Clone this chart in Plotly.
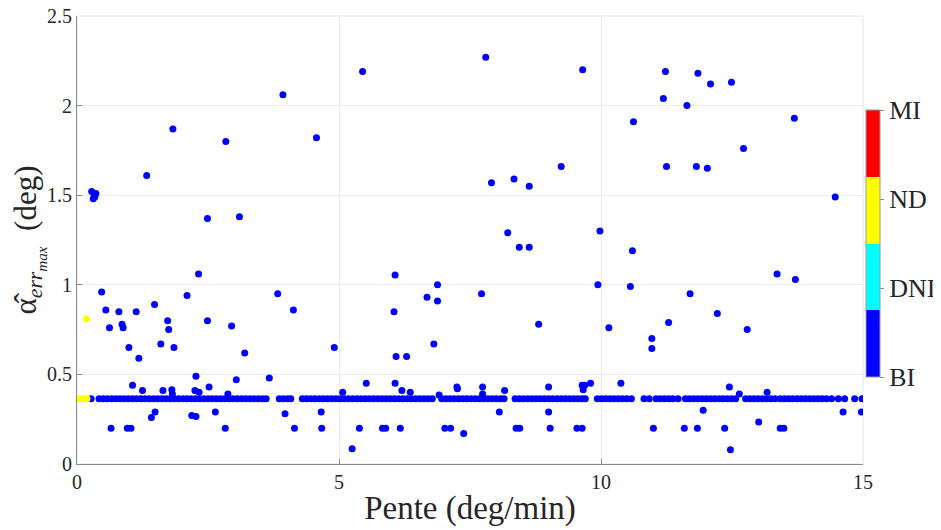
import plotly.graph_objects as go

# Classes (colorbar)
CLASS_LABELS = ["BI", "DNI", "ND", "MI"]
CLASS_VALUES = [1, 2, 3, 4]
CLASS_COLORS = ["#0000ff", "#00ffff", "#ffff00", "#ff0000"]

# Scattered points, class BI
pente_bi = [
    0.28, 0.33, 0.36, 0.31, 0.34,
    3.93, 1.83, 2.84, 4.57, 1.33, 2.49, 3.10,
    5.45, 7.80, 9.65, 10.62, 7.91, 8.34, 8.63, 9.24, 8.22, 8.44, 8.63, 9.98,
    11.23, 11.85, 12.09, 12.49, 11.19, 11.64, 13.69, 12.72, 11.25, 11.82, 12.03, 14.47,
    0.47, 0.55, 0.62, 0.80, 0.86, 0.88, 1.13, 0.99, 1.18, 1.06, 1.25, 1.48, 1.60,
    1.73, 1.75, 1.85, 1.64, 1.81, 1.82, 2.10, 2.32, 2.27, 2.25, 2.33, 2.49, 2.52,
    2.95, 3.20, 3.04, 2.88, 3.67, 3.83, 4.13, 4.91,
    0.65, 0.96, 1.03, 1.42, 1.49, 2.19, 2.27, 2.64, 2.83, 3.97, 4.15, 4.66, 4.67,
    6.07, 6.05, 6.09, 6.29, 6.68, 6.88, 6.88, 6.81, 7.72, 8.81, 9.94, 10.15, 10.56, 10.60,
    5.52, 5.07, 6.07, 6.20, 6.36, 6.91, 7.25, 7.26, 7.74, 7.74, 8.16, 9.00, 9.64, 9.66,
    9.69, 9.80, 10.38,
    5.25, 5.39, 5.83, 5.89, 6.17, 7.02, 7.13, 7.38, 8.06, 8.38, 8.45, 9.00, 9.03, 9.54, 9.64,
    10.97, 10.97, 11.29, 11.70, 12.22, 12.79, 13.36, 13.71, 12.45, 12.64, 13.17,
    11.00, 11.59, 11.84, 11.95, 12.36, 12.47, 13.01, 13.42, 13.49, 14.62, 14.97,
]
alpha_bi = [
    1.52, 1.50, 1.51, 1.48, 1.49,
    2.06, 1.87, 1.80, 1.82, 1.61, 1.37, 1.38,
    2.19, 2.27, 2.20, 1.91, 1.57, 1.59, 1.55, 1.66, 1.29, 1.21, 1.21, 1.30,
    2.19, 2.18, 2.12, 2.13, 2.04, 2.00, 1.93, 1.76, 1.66, 1.66, 1.65, 1.49,
    0.96, 0.86, 0.76, 0.85, 0.78, 0.76, 0.85, 0.65, 0.59, 0.44, 0.41, 0.89, 0.67,
    0.80, 0.75, 0.65, 0.41, 0.415, 0.39, 0.94, 1.06, 0.49, 0.41, 0.40, 0.80, 0.43,
    0.77, 0.62, 0.47, 0.39, 0.48, 0.95, 0.86, 0.65,
    0.20, 0.20, 0.20, 0.26, 0.29, 0.27, 0.265, 0.29, 0.20, 0.28, 0.20, 0.29, 0.20,
    1.055, 0.85, 0.60, 0.60, 0.93, 1.00, 0.91, 0.67, 0.95, 0.78, 1.00, 0.76, 0.99, 1.19,
    0.45, 0.40, 0.45, 0.41, 0.40, 0.385, 0.43, 0.42, 0.43, 0.39, 0.41, 0.43, 0.44, 0.415,
    0.44, 0.45, 0.45,
    0.085, 0.20, 0.20, 0.20, 0.20, 0.20, 0.20, 0.17, 0.29, 0.20, 0.20, 0.29, 0.20, 0.20, 0.20,
    0.70, 0.645, 0.79, 0.95, 0.84, 0.75, 1.06, 1.03, 0.43, 0.39, 0.40,
    0.20, 0.20, 0.20, 0.30, 0.20, 0.08, 0.235, 0.20, 0.20, 0.29, 0.29,
]

# Dense row of BI points at the floor value
ROW_ALPHA = 0.364
pente_row = [
    0.27,
    0.42, 0.50, 0.58, 0.66, 0.74, 0.82, 0.90, 0.98, 1.06, 1.14, 1.22, 1.30, 1.38, 1.46,
    1.54, 1.62, 1.70, 1.78, 1.86, 1.94, 2.02, 2.10, 2.18, 2.26, 2.34, 2.42, 2.50, 2.58,
    2.66, 2.74, 2.82, 2.90, 2.98, 3.06, 3.14, 3.22, 3.30, 3.38, 3.46, 3.54, 3.61,
    3.86, 3.94, 4.02, 4.08,
    4.30, 4.38, 4.46, 4.54, 4.62, 4.70, 4.78, 4.86, 4.94, 5.02, 5.10, 5.18, 5.26, 5.34,
    5.42, 5.50, 5.58, 5.66, 5.74, 5.82, 5.90, 5.98, 6.06, 6.14, 6.22, 6.30, 6.38, 6.46,
    6.54, 6.62, 6.70, 6.78,
    6.96, 7.04, 7.12, 7.20, 7.28, 7.36, 7.44, 7.52, 7.60, 7.68, 7.76, 7.84, 7.92, 8.00,
    8.08, 8.15,
    8.36, 8.44, 8.52, 8.60, 8.68, 8.76, 8.84, 8.92, 9.00, 9.08, 9.16, 9.24, 9.32, 9.40,
    9.48, 9.56, 9.64, 9.70,
    9.93, 10.01, 10.09, 10.17, 10.25, 10.33, 10.41, 10.49, 10.58,
    10.82, 10.92,
    11.05, 11.13, 11.21, 11.29, 11.37, 11.47,
    11.61, 11.69, 11.77, 11.85, 11.93, 12.01, 12.09, 12.17, 12.25, 12.33, 12.41, 12.49, 12.57,
    12.76, 12.84, 12.92, 13.00, 13.08, 13.16, 13.24, 13.32, 13.42, 13.50, 13.58, 13.66,
    13.74, 13.82, 13.90, 13.98, 14.06, 14.14, 14.22, 14.30, 14.40,
    14.53, 14.65,
    14.84, 14.98,
]

# Class ND points (yellow)
pente_nd = [0.0, 0.07, 0.13, 0.19, 0.18]
alpha_nd = [0.364, 0.364, 0.364, 0.364, 0.81]

pente = pente_bi + pente_row + pente_nd
alpha = alpha_bi + [ROW_ALPHA] * len(pente_row) + alpha_nd
classe = [1] * (len(pente_bi) + len(pente_row)) + [3] * len(pente_nd)

# discrete colorscale, 4 equal bins over [1, 4]
colorscale = []
for i, c in enumerate(CLASS_COLORS):
    colorscale.append([i / 4, c])
    colorscale.append([(i + 1) / 4, c])

SERIF = "Liberation Serif, DejaVu Serif, serif"
TXT = "#262626"

fig = go.Figure()
fig.add_trace(go.Scatter(
    x=pente, y=alpha, mode="markers",
    marker=dict(
        size=7, color=classe, colorscale=colorscale, cmin=1, cmax=4,
        line=dict(width=0),
        colorbar=dict(
            tickvals=CLASS_VALUES, ticktext=CLASS_LABELS,
            tickfont=dict(family=SERIF, size=26, color=TXT),
            ticks="outside", ticklen=4, tickcolor="#888",
            thickness=14, thicknessmode="pixels",
            len=0.596, lenmode="fraction", y=0.492, yanchor="middle", ypad=0,
            x=1.004, xanchor="left", xpad=0,
            outlinewidth=1, outlinecolor="#999",
        ),
    ),
    showlegend=False, hoverinfo="x+y",
))

# page body has an 8px margin, so the figure is a bit smaller than the window
fig.update_layout(
    width=933, height=522,
    margin=dict(l=69, r=78, t=8, b=66, autoexpand=False),
    plot_bgcolor="white", paper_bgcolor="white",
    font=dict(family=SERIF, color=TXT),
)
fig.update_xaxes(
    range=[0, 15], tickvals=[0, 5, 10, 15], automargin=False,
    ticklabeloverflow="allow",
    showgrid=True, gridcolor="#ebebeb", gridwidth=1, zeroline=False,
    showline=True, linecolor="#8a8a8a", linewidth=1,
    ticks="inside", ticklen=5, tickcolor="#8a8a8a",
    tickfont=dict(family=SERIF, size=20, color=TXT),
    title=dict(text="Pente (deg/min)", font=dict(family=SERIF, size=33, color=TXT), standoff=3),
)
fig.update_yaxes(
    range=[0, 2.5], tickvals=[0, 0.5, 1, 1.5, 2, 2.5], automargin=False,
    ticklabeloverflow="allow",
    showgrid=True, gridcolor="#ebebeb", gridwidth=1, zeroline=False,
    showline=True, linecolor="#8a8a8a", linewidth=1,
    ticks="inside", ticklen=5, tickcolor="#8a8a8a",
    tickfont=dict(family=SERIF, size=20, color=TXT),
    title=dict(text="α̂<sub><i>err</i><sub><i>max</i></sub></sub>  (deg)",
               font=dict(family=SERIF, size=31, color=TXT), standoff=4),
)
# light frame on top/right like the reference box
fig.add_shape(type="rect", xref="paper", yref="paper", x0=0, y0=0, x1=1, y1=1,
              line=dict(color="#e6e6e6", width=1), layer="below")

fig.write_html("out.html")
